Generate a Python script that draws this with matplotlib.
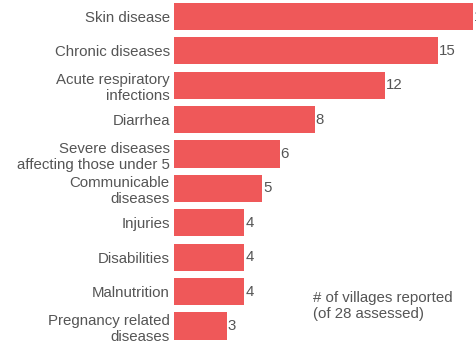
import numpy as np
import matplotlib.pyplot as plt

plt.rcParams['font.family'] = ['Liberation Sans', 'DejaVu Sans']

categories = ['Skin disease', 'Chronic diseases', 'Acute respiratory\ninfections',
              'Diarrhea', 'Severe diseases\naffecting those under 5',
              'Communicable\ndiseases', 'Injuries', 'Disabilities',
              'Malnutrition', 'Pregnancy related\ndiseases']
villages = [17, 15, 12, 8, 6, 5, 4, 4, 4, 3]

bar_color = '#EF5859'
text_color = '#555555'
fs = 10.8

fig = plt.figure(figsize=(4.77, 3.42), dpi=100)
ax = fig.add_axes([174 / 477, 0, 303 / 477, 1])

y = np.arange(len(categories))
ax.barh(y, villages, height=0.79, color=bar_color)
for yi, v in zip(y, villages):
    ax.text(v + 0.05, yi, str(v), va='center', ha='left', fontsize=fs,
            color=text_color, clip_on=False)

ax.set_xlim(0, 303 / 17.6)
ax.set_ylim(9.465, -0.48)
ax.set_yticks(y)
ax.set_yticklabels(categories, fontsize=fs, color=text_color, linespacing=1.2)
ax.tick_params(axis='y', length=0, pad=3)
ax.set_xticks([])
for s in ax.spines.values():
    s.set_visible(False)

fig.text(313 / 477, 1 - 306 / 342, '# of villages reported\n(of 28 assessed)',
         fontsize=fs, color=text_color, ha='left', va='center', linespacing=1.15)

fig.savefig('out.png', dpi=100)
